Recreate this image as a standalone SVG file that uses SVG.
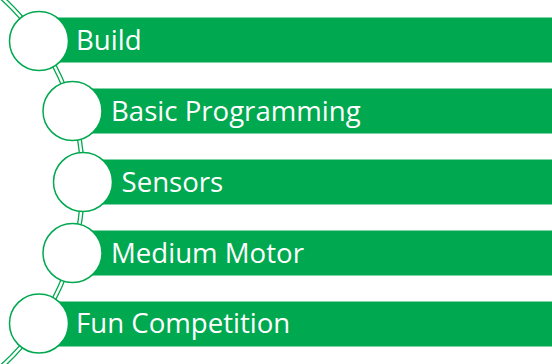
<svg xmlns="http://www.w3.org/2000/svg" width="552" height="364" viewBox="0 0 552 364">
<style>
.bar{fill:#00A84F;stroke:#ffffff;stroke-width:1}
.dot{fill:#ffffff;stroke:#00A84F;stroke-width:1.5}
.lbl{font-family:"Open Sans","Noto Sans",sans-serif;font-size:27.6px;fill:#ffffff}
.arcO{fill:none;stroke:#00A84F;stroke-width:5}
.arcI{fill:none;stroke:#ffffff;stroke-width:2.4}
</style>
<rect width="552" height="364" fill="#ffffff"/>
<g id="connectors">
<path class="arcO" d="M2.2,-2 A250,250 0 0 1 2.2,366"/>
<path class="arcI" d="M2.2,-2 A250,250 0 0 1 2.2,366"/>
</g>
<g id="n1">
<rect class="bar" x="39" y="17" width="514" height="46"/>
<circle class="dot" cx="39" cy="41" r="29.5"/>
<text class="lbl" x="76" y="49.5">Build</text>
</g>
<g id="n2">
<rect class="bar" x="72.5" y="88" width="480.5" height="46"/>
<circle class="dot" cx="72.5" cy="111" r="29.5"/>
<text class="lbl" x="111" y="120.5">Basic Programming</text>
</g>
<g id="n3">
<rect class="bar" x="83" y="159" width="470" height="46"/>
<circle class="dot" cx="83" cy="182" r="29.5"/>
<text class="lbl" x="121.5" y="191.5">Sensors</text>
</g>
<g id="n4">
<rect class="bar" x="72.5" y="230" width="480.5" height="46"/>
<circle class="dot" cx="72.5" cy="253" r="29.5"/>
<text class="lbl" x="111" y="262.5">Medium Motor</text>
</g>
<g id="n5">
<rect class="bar" x="39" y="301" width="514" height="46"/>
<circle class="dot" cx="39" cy="323.5" r="29.5"/>
<text class="lbl" x="76" y="333">Fun Competition</text>
</g>
</svg>
